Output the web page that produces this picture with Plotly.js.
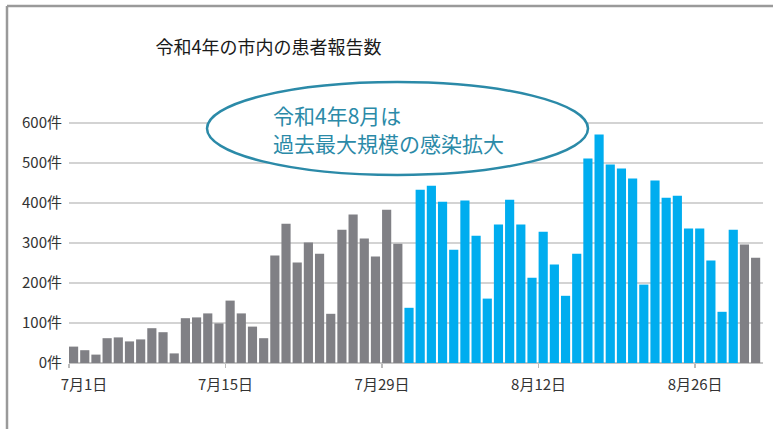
<!DOCTYPE html>
<html>
<head>
<meta charset="utf-8">
<script src="https://cdn.plot.ly/plotly-3.0.1.min.js"></script>
<style>html,body{margin:0;padding:0;background:#fff;}#chart{width:773px;height:429px;}</style>
</head>
<body>
<div id="chart"></div>
<script>
const dates = [
  '7月1日','7月2日','7月3日','7月4日','7月5日','7月6日','7月7日','7月8日','7月9日','7月10日',
  '7月11日','7月12日','7月13日','7月14日','7月15日','7月16日','7月17日','7月18日','7月19日','7月20日',
  '7月21日','7月22日','7月23日','7月24日','7月25日','7月26日','7月27日','7月28日','7月29日','7月30日',
  '7月31日','8月1日','8月2日','8月3日','8月4日','8月5日','8月6日','8月7日','8月8日','8月9日',
  '8月10日','8月11日','8月12日','8月13日','8月14日','8月15日','8月16日','8月17日','8月18日','8月19日',
  '8月20日','8月21日','8月22日','8月23日','8月24日','8月25日','8月26日','8月27日','8月28日','8月29日',
  '8月30日','8月31日'
];
const cases = [
  41, 32, 21, 62, 64, 54, 59, 87, 77, 24,
  112, 114, 124, 99, 156, 124, 91, 62, 269, 348,
  251, 301, 273, 123, 333, 371, 311, 266, 383, 298,
  138, 433, 443, 403, 283, 406, 318, 161, 346, 408,
  346, 213, 328, 246, 168, 273, 511, 571, 496, 486,
  461, 196, 456, 413, 418, 336, 336, 256, 128, 333,
  296, 263
];
const highlightFrom = '7月31日';
const highlightTo = '8月29日';
const xTickLabels = ['7月1日','7月15日','7月29日','8月12日','8月26日'];
const yTickValues = [0, 100, 200, 300, 400, 500, 600];
const yTickLabels = ['0件','100件','200件','300件','400件','500件','600件'];
const chartTitle = '令和4年の市内の患者報告数';
const calloutLines = ['令和4年8月は', '過去最大規模の感染拡大'];

const GRAY = '#808085', BLUE = '#00adef', TEAL = '#2b8aa8';
const hiA = dates.indexOf(highlightFrom), hiB = dates.indexOf(highlightTo);
const xs = dates.map((d, i) => i);
const colors = dates.map((d, i) => (i >= hiA && i <= hiB) ? BLUE : GRAY);
const barHalf = 0.41;
const tickPos = xTickLabels.map(l => dates.indexOf(l) - barHalf);
const tickText = xTickLabels.map((l, k) => k === 0 ? '\u3000\u3000' + l : l);

const FONT = '"Noto Sans CJK JP", "Noto Sans", sans-serif';

// pixel helpers for paper coordinates (plot area: x 69..763, y 103..363)
const PL = 69, PW = 694, PT = 103, PH = 260;
const px = v => (v - PL) / PW;
const py = v => (PT + PH - v) / PH;

const trace = {
  type: 'bar', x: xs, y: cases, customdata: dates, textposition: 'none',
  marker: {color: colors, line: {width: 0}},
  hovertemplate: '%{customdata}: %{y}件<extra></extra>'
};

const layout = {
  width: 773, height: 429,
  margin: {l: PL, r: 773 - PL - PW, t: PT, b: 429 - PT - PH, pad: 0},
  paper_bgcolor: '#fff', plot_bgcolor: '#fff',
  showlegend: false,
  bargap: 0.18,
  font: {family: FONT, color: '#333', size: 15},
  title: {
    text: chartTitle, font: {family: FONT, size: 18, color: '#1a1a1a'},
    x: 268.5 / 773, xref: 'container', xanchor: 'center',
    y: 1 - 48 / 429, yref: 'container', yanchor: 'middle'
  },
  xaxis: {
    range: [-barHalf, 61.66], showgrid: false, zeroline: false, showline: false,
    tickmode: 'array', tickvals: tickPos, ticktext: tickText,
    ticks: 'outside', ticklen: 4, tickwidth: 1.5, tickcolor: '#bbb',
    ticklabelstandoff: 4,
    tickfont: {family: FONT, size: 15, color: '#333'}, fixedrange: true
  },
  yaxis: {
    range: [0, 650], showgrid: true, gridcolor: '#d3d3d3', gridwidth: 1.5,
    zeroline: true, zerolinecolor: '#c4c4c4', zerolinewidth: 2, showline: false,
    tickmode: 'array', tickvals: yTickValues, ticktext: yTickLabels,
    ticks: '', ticklabelstandoff: 6,
    tickfont: {family: FONT, size: 15, color: '#333'}, fixedrange: true
  },
  shapes: [
    {type: 'line', xref: 'paper', yref: 'paper', x0: px(7), x1: px(780), y0: py(6), y1: py(6),
     line: {color: '#9a9a9a', width: 2.5}},
    {type: 'line', xref: 'paper', yref: 'paper', x0: px(7), x1: px(7), y0: py(6), y1: py(440),
     line: {color: '#9a9a9a', width: 2.5}},
    {type: 'circle', xref: 'paper', yref: 'paper', layer: 'above',
     x0: px(207), x1: px(588), y0: py(175), y1: py(82),
     fillcolor: '#ffffff', line: {color: TEAL, width: 2.5}}
  ],
  annotations: [
    {xref: 'paper', yref: 'paper', x: px(271), y: py(115), xanchor: 'left', yanchor: 'middle',
     showarrow: false, text: calloutLines[0], font: {family: FONT, size: 21, color: TEAL}},
    {xref: 'paper', yref: 'paper', x: px(271), y: py(142.5), xanchor: 'left', yanchor: 'middle',
     showarrow: false, text: calloutLines[1], font: {family: FONT, size: 21, color: TEAL}}
  ]
};

Plotly.newPlot('chart', [trace], layout, {displayModeBar: false, staticPlot: true});
</script>
</body>
</html>
